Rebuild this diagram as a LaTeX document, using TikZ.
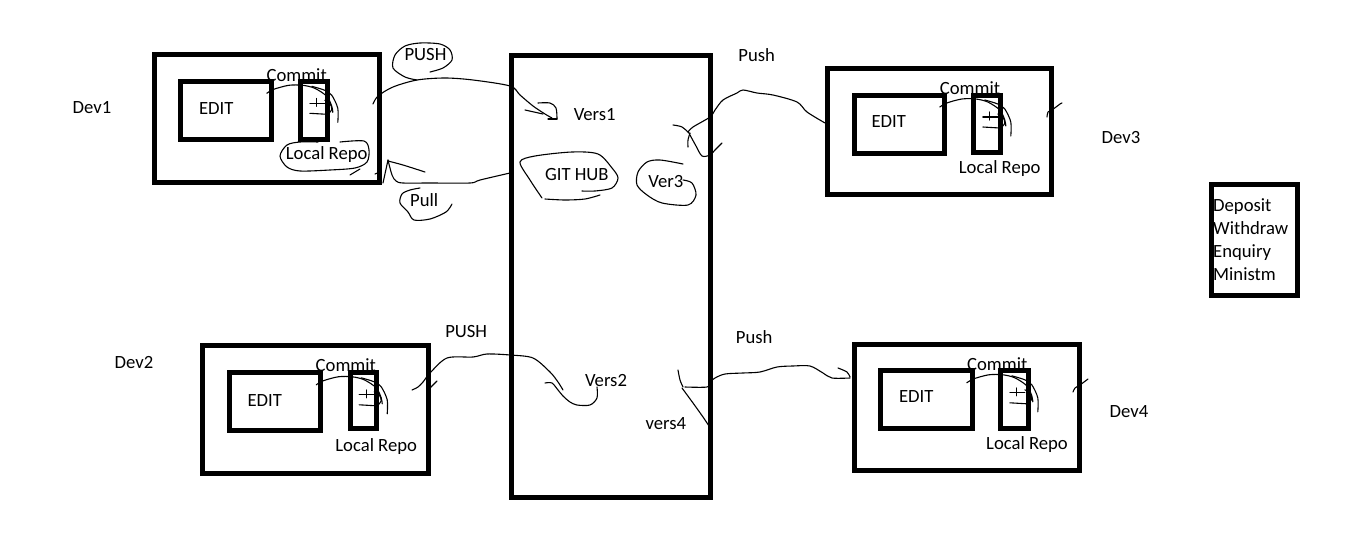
\documentclass[tikz,border=0pt]{standalone}
\usepackage{fontspec}
\setmainfont{Carlito}
\newcommand\commitscrib[1]{%
 \begin{scope}[shift={#1}]
  \draw[ink] plot[smooth] coordinates {(-34,12) (-27,8) (-12,4) (2,4) (14,7) (26,15) (31,25) (32,31)};
  \draw[ink] plot[smooth] coordinates {(11,5) (24,9) (31,14) (37,27) (37,41)};
  \draw[ink] (9,22) -- (24,22);
  \draw[ink] (9,32) -- (26,33);
  \draw[ink] (16,17) -- (16,25);
  \draw[ink] plot[smooth] coordinates {(24,19) (29,22) (31,28) (27,33)};
 \end{scope}}
\begin{document}
\begin{tikzpicture}[x=1pt,y=-1pt,
  box/.style={draw, line width=5pt, inner sep=0pt, outer sep=0pt},
  lbl/.style={font=\fontsize{18.67}{22}\selectfont, inner sep=0pt, anchor=base},
  lbll/.style={lbl, anchor=base west},
  ink/.style={line width=1.1pt, line cap=round, line join=round}]
\fill[white] (0,0) rectangle (1360,554);
\useasboundingbox (0,0) rectangle (1360,554);

% boxes
\node[box, minimum width=225pt, minimum height=127.7pt] (dev1box) at (266.5,118.5) {};
\node[box, minimum width=91.2pt, minimum height=58.4pt] (dev1edit) at (226.1,110.5) {};
\node[box, minimum width=27pt, minimum height=58pt] (dev1repo) at (314.3,110.3) {};
\node[box, minimum width=199.1pt, minimum height=441.2pt] (hub) at (611.25,276.4) {};
\node[box, minimum width=224.3pt, minimum height=125.9pt] (dev3box) at (939.65,131.25) {};
\node[box, minimum width=90pt, minimum height=58.3pt] (dev3edit) at (899,124.15) {};
\node[box, minimum width=27pt, minimum height=57pt] (dev3repo) at (987.3,123.5) {};
\node[box, minimum width=226.2pt, minimum height=128pt] (dev2box) at (315.6,409.8) {};
\node[box, minimum width=91pt, minimum height=58pt] (dev2edit) at (275.3,401.8) {};
\node[box, minimum width=26.6pt, minimum height=55.2pt] (dev2repo) at (363.5,400.4) {};
\node[box, minimum width=225pt, minimum height=126.6pt] (dev4box) at (966.5,407.5) {};
\node[box, minimum width=91.4pt, minimum height=57.7pt] (dev4edit) at (926.5,399.65) {};
\node[box, minimum width=27.4pt, minimum height=57.7pt] (dev4repo) at (1014.5,399.65) {};
\node[box, minimum width=85.8pt, minimum height=111.8pt] (ops) at (1254.6,239.9) {};

% labels
\node[lbl] (l1) at (92,113.5) {Dev1};
\node[lbl] (l2) at (216.2,114) {EDIT};
\node[lbl] (l3) at (296.7,81.5) {Commit};
\node[lbl] (l4) at (326.7,159.3) {Local Repo};
\node[lbl] (l5) at (425.5,60) {PUSH};
\node[lbl] (l6) at (594.7,120.5) {Vers1};
\node[lbl] (l7) at (576.8,180) {GIT HUB};
\node[lbl] (l8) at (424.2,206.5) {Pull};
\node[lbl] (l9) at (665.8,187.5) {Ver3};
\node[lbl] (l10) at (756.7,61.5) {Push};
\node[lbl] (l11) at (888.8,127) {EDIT};
\node[lbl] (l12) at (970,94) {Commit};
\node[lbl] (l13) at (999.7,173.3) {Local Repo};
\node[lbl] (l14) at (1121,143.5) {Dev3};
\node[lbl] (l15) at (134,368) {Dev2};
\node[lbl] (l16) at (264.8,406) {EDIT};
\node[lbl] (l17) at (345.8,371.7) {Commit};
\node[lbl] (l18) at (376.2,451.5) {Local Repo};
\node[lbl] (l19) at (466.2,337) {PUSH};
\node[lbl] (l20) at (606,386) {Vers2};
\node[lbl] (l21) at (665.8,429) {vers4};
\node[lbl] (l22) at (754.2,343) {Push};
\node[lbl] (l23) at (916.2,402.5) {EDIT};
\node[lbl] (l24) at (997.2,370) {Commit};
\node[lbl] (l25) at (1027,449.3) {Local Repo};
\node[lbl] (l26) at (1129,417) {Dev4};
\node[lbll] (o1) at (1213,211) {Deposit};
\node[lbll] (o2) at (1213,234) {Withdraw};
\node[lbll] (o3) at (1213,257) {Enquiry};
\node[lbll] (o4) at (1213,280) {Ministm};

% commit scribbles
\commitscrib{(300.8,81.3)}
\commitscrib{(350.2,372.8)}
\commitscrib{(973.8,95)}
\commitscrib{(1000.8,370.8)}

% Dev1 push
\draw[ink] plot[smooth] coordinates {(373,104) (378,96) (393,87) (417,80) (445,78) (473,80) (510,86) (520,95) (533,106) (545,114) (552,118)};
\draw[ink] (525,110) -- (543,114);
\draw[ink] plot[smooth] coordinates {(538,103) (550,103) (556,108) (557,119)};
\draw[ink] (548,119) -- (557,119);
\draw[ink] plot[smooth] coordinates {(430,72) (443,68) (452,60) (450,50) (440,44) (420,43) (405,46) (395,55) (393,68) (405,77) (417,80)};
% Local Repo loop
\draw[ink] plot[smooth] coordinates {(318,142) (300,142) (287,145) (280,156) (287,167) (300,171) (330,170) (355,168) (367,162) (369,150) (364,141) (340,142)};
\draw[ink] (350,175) -- (360,169);
% Pull
\draw[ink] plot[smooth] coordinates {(510,173) (480,180) (470,183) (430,183) (403,183) (396,181) (392,175) (388,160)};
\draw[ink] (388,160) -- (383,183);
\draw[ink] plot[smooth] coordinates {(388,161) (403,165) (425,172)};
\draw[ink] (375,174) -- (380,172);
\draw[ink] plot[smooth] coordinates {(420,188) (410,190) (402,194) (400,203) (408,212) (414,220) (430,219) (446,212) (452,204)};
% GIT HUB loop
\draw[ink] plot[smooth] coordinates {(542,198) (530,180) (520,162) (535,156) (572,152) (598,154) (612,168) (618,178) (612,188) (595,191) (582,191)};
\draw[ink] plot[smooth] coordinates {(545,199) (565,200) (585,199) (600,195)};
% Ver3 loop
\draw[ink] plot[smooth] coordinates {(683,164) (660,160) (647,162) (638,172) (637,185) (647,195) (662,203) (688,205) (696,195) (692,183) (683,180)};
% Dev3 push
\draw[ink] plot[smooth] coordinates {(825,123) (807,112) (797,102) (773,95) (757,93) (743,90) (737,93) (723,100) (715,110) (710,117) (693,127) (688,132)};
\draw[ink] plot[smooth] coordinates {(673,125) (682,127) (690,134)};
\draw[ink] plot[smooth] coordinates {(690,133) (688,140) (688,147)};
\draw[ink] plot[smooth] coordinates {(690,135) (696,146) (702,156) (710,155) (715,150) (722,143)};
\draw[ink] plot[smooth] coordinates {(1047,117) (1048,112) (1052,110) (1060,104) (1062,103)};
% Dev2 push
\draw[ink] plot[smooth] coordinates {(412,390) (418,387) (423,382) (430,373) (447,358) (473,357) (487,354) (510,355) (533,358) (550,372) (558,382) (563,390)};
\draw[ink] plot[smooth] coordinates {(545,383) (552,383) (558,390) (563,396) (570,402) (577,405) (590,405) (597,398) (597,387)};
\draw[ink] (430,388) -- (437,381);
% Dev4 push
\draw[ink] plot[smooth] coordinates {(850,378) (832,378) (823,373) (810,366) (793,366) (777,367) (760,372) (743,373) (725,374) (715,378) (710,382) (707,387) (685,387)};
\draw[ink] plot[smooth] coordinates {(678,370) (680,380) (683,387)};
\draw[ink] plot[smooth] coordinates {(682,388) (693,403) (703,417) (709,426)};
\draw[ink] plot[smooth] coordinates {(838,368) (847,372) (850,377)};
\draw[ink] plot[smooth] coordinates {(1073,392) (1075,388) (1080,385) (1088,379)};
\end{tikzpicture}
\end{document}
